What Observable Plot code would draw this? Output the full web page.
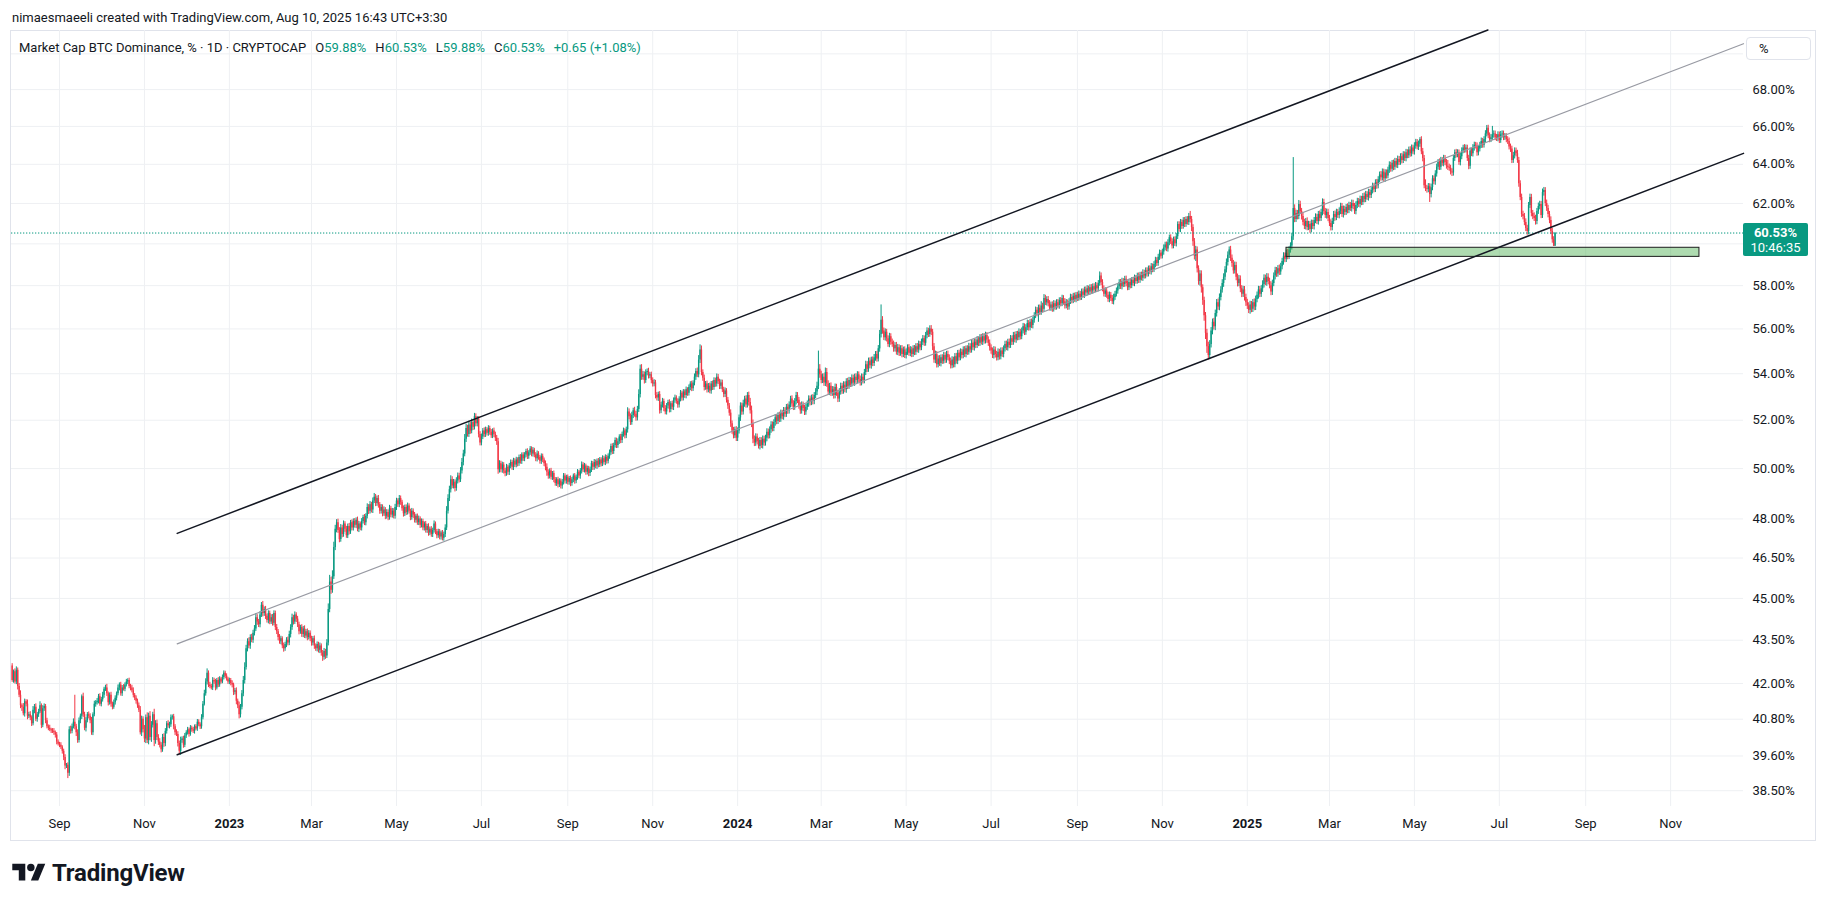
<!DOCTYPE html>
<html>
<head>
<meta charset="utf-8">
<script src="https://cdn.jsdelivr.net/npm/d3@7"></script>
<script src="https://cdn.jsdelivr.net/npm/@observablehq/plot@0.6"></script>
<style>
  html,body{margin:0;padding:0;background:#fff;}
  body{width:1825px;height:906px;position:relative;overflow:hidden;font-family:Roboto,"Noto Sans",sans-serif;color:#131722;}
  #credit{position:absolute;left:12px;top:9px;font-size:13px;line-height:18px;white-space:nowrap;}
  #border{position:absolute;left:10px;top:30px;width:1806px;height:811px;border:1px solid #e0e3eb;box-sizing:border-box;}
  #chart{position:absolute;left:0;top:30px;}
  #legend{position:absolute;left:19px;top:39px;font-size:13px;line-height:18px;white-space:nowrap;}
  #legend .it{margin-left:9px;}
  #legend .v{color:#089981;}
  #unit{position:absolute;left:1746px;top:37px;width:65px;height:23px;border:1px solid #e0e3eb;border-radius:4px;box-sizing:border-box;font-size:13px;line-height:21px;padding-left:12px;background:#fff;}
  #logo{position:absolute;left:12px;top:860px;height:26px;display:flex;align-items:center;gap:6px;font-weight:700;font-size:24px;letter-spacing:-0.2px;color:#131722;}
</style>
</head>
<body>
<div id="credit">nimaesmaeeli created with TradingView.com, Aug 10, 2025 16:43 UTC+3:30</div>
<div id="border"></div>
<div id="chart"></div>
<div id="legend"></div>
<div id="unit">%</div>
<div id="logo"><svg width="34" height="26" viewBox="0 0 36 28"><path d="M14 22H7V11H0V4h14v18z" fill="#131722"/><circle cx="20" cy="8" r="4" fill="#131722"/><path d="M28 22h-8l7.5-18h8z" fill="#131722"/></svg><span>TradingView</span></div>
<script>
// ---------------- data ----------------
const firstDay = "2022-07-29";
const firstOpen = 42.60;

// daily closes (%), one per day from 2022-07-29 to 2025-08-10
const close2022 = [
42.10,42.40,42.05,
42.45,41.90,41.60,41.25,41.20,40.98,41.38,41.30,40.90,40.95,
40.85,40.65,41.10,41.20,40.80,40.95,41.05,41.25,40.60,41.15,
41.22,40.75,40.55,40.50,40.45,40.42,40.40,40.35,40.28,40.05,
39.98,
39.95,39.88,39.75,39.55,39.28,39.30,39.05,40.45,40.40,40.55,
40.70,40.55,40.35,40.10,40.75,40.90,41.55,40.95,40.50,40.75,
40.95,40.90,40.75,40.35,40.95,41.30,41.35,41.40,41.55,41.30,
41.45,41.60,41.80,41.85,41.65,41.35,41.60,41.30,41.20,41.35,
41.50,41.65,41.85,41.95,41.65,41.85,41.80,41.95,42.05,42.10,
41.90,41.85,41.75,41.60,41.50,41.40,41.25,41.10,40.35,40.80,
40.45,
40.15,40.85,40.10,40.90,40.20,40.60,40.95,40.10,40.65,40.20,
40.05,39.95,39.80,40.20,40.00,40.40,40.65,40.58,40.62,40.85,
40.88,40.55,40.35,40.30,40.00,39.75,40.10,40.15,39.95,40.25,
40.35,40.45,40.30,40.50,40.45,40.40,40.55,40.48,40.70,40.62,
40.55,40.85,41.30,41.65,42.05,42.35,41.95,41.90,41.85,42.10,
42.05,41.85,42.10,41.95,42.15,42.05,42.20,42.35,42.25,42.15,
42.05];
const close2023 = [
42.10,42.00,41.95,41.70,41.75,41.40,41.25,40.95,41.20,41.65,
42.10,42.55,43.20,43.45,43.30,43.60,43.50,43.75,43.90,44.30,
44.15,44.05,44.40,44.75,44.45,44.60,44.35,44.20,44.45,44.15,
44.30,
44.10,44.45,43.95,43.80,43.60,43.45,43.55,43.30,43.20,43.35,
43.50,43.40,43.70,43.95,44.30,44.15,44.40,44.25,44.05,43.80,
43.95,43.70,43.90,43.65,43.80,43.60,43.75,43.55,
43.40,43.55,43.30,43.20,43.35,43.15,43.30,43.05,42.90,43.10,
42.95,43.40,44.60,45.60,45.30,45.80,46.90,47.60,47.85,47.55,
47.20,47.65,47.40,47.80,47.60,47.35,47.70,47.50,47.85,47.65,
47.90,
47.75,47.95,47.60,47.80,47.65,47.90,48.05,47.85,48.10,48.45,
48.30,48.55,48.35,48.70,48.85,48.60,48.80,48.55,48.30,48.45,
48.20,48.35,48.10,48.25,48.05,48.40,48.15,48.30,48.10,48.45,
48.70,48.55,48.80,48.65,48.40,48.20,48.45,48.25,48.50,48.30,
48.05,48.30,48.15,47.95,48.10,47.85,48.00,47.75,47.90,47.65,
47.80,47.55,47.70,47.45,47.60,47.40,47.55,47.80,47.50,47.35,
47.50,
47.30,47.45,47.25,47.40,47.65,48.30,48.80,49.15,49.55,49.30,
49.45,49.20,49.50,49.70,49.55,49.90,50.25,50.60,51.20,51.65,
51.40,51.80,51.55,51.90,51.70,52.15,51.85,52.05,51.40,51.05,
51.30,51.55,51.40,51.60,51.45,51.65,51.50,51.35,51.55,51.40,
51.25,51.10,49.95,50.20,49.95,50.15,49.90,49.80,50.05,49.85,
50.10,50.25,50.05,50.30,50.15,50.35,50.20,50.45,50.30,50.55,
50.40,
50.55,50.70,50.50,50.65,50.80,50.60,50.75,50.55,50.40,50.60,
50.45,50.30,50.50,50.35,50.20,50.05,49.85,49.70,49.90,49.65,
49.80,49.55,49.40,49.55,49.35,49.50,49.30,49.45,49.70,49.50,
49.65,
49.45,49.60,49.40,49.55,49.70,49.50,49.65,49.85,49.70,49.90,
50.15,49.95,50.10,49.85,50.00,49.80,49.95,50.20,50.05,50.25,
50.10,50.30,50.15,50.35,50.20,50.40,50.25,50.45,50.30,50.50,
50.65,50.90,50.70,50.95,51.15,50.95,51.10,51.30,51.15,51.40,
51.55,51.35,51.60,52.35,52.15,51.90,52.20,52.40,52.25,52.10,
52.45,53.10,54.20,53.85,53.95,53.70,54.05,54.10,53.90,53.95,
53.70,
53.55,53.60,53.05,52.95,53.10,52.40,52.65,52.80,52.50,52.35,
52.60,52.75,52.45,52.70,52.55,52.85,52.95,52.80,52.65,52.90,
53.15,52.95,53.20,53.05,53.30,53.15,53.40,53.55,53.35,53.60,
53.85,54.10,53.95,54.60,55.05,54.05,53.80,53.40,53.55,53.30,
53.45,53.25,53.55,53.40,53.70,53.55,53.85,53.65,53.45,53.60,
53.30,53.10,53.25,52.85,52.60,52.30,51.85,51.55,51.35,51.60,
51.25];
const close2024 = [
51.55,52.10,52.60,52.35,52.70,52.90,52.65,53.05,52.75,52.40,
51.85,51.20,51.05,51.30,51.10,50.90,51.15,50.95,51.20,51.05,
51.25,51.50,51.35,51.60,51.80,51.65,51.90,52.10,51.95,52.20,
52.05,
52.30,52.15,52.40,52.25,52.55,52.40,52.65,52.90,52.70,52.55,
52.80,53.05,52.85,52.60,52.40,52.65,52.50,52.35,52.55,52.70,
52.90,52.75,52.95,52.80,53.05,53.20,53.45,54.20,53.95,
53.70,53.85,53.60,54.05,53.55,53.20,53.45,53.15,53.30,53.05,
53.40,53.15,52.90,53.20,53.45,53.25,53.50,53.30,53.65,53.45,
53.70,53.55,53.80,53.60,53.85,53.70,53.95,53.75,53.60,53.85,
53.70,
54.05,54.40,54.20,54.55,54.35,54.60,54.45,54.70,54.85,54.65,
55.10,55.75,56.40,55.90,55.60,55.85,55.55,55.30,55.65,55.40,
55.30,55.10,55.25,54.95,55.15,54.90,55.10,54.85,55.05,54.80,
54.95,55.15,54.90,55.05,54.85,55.10,54.95,55.20,55.05,55.30,
55.15,55.40,55.55,55.35,55.70,55.90,55.75,56.00,55.85,55.20,
54.60,54.85,54.40,54.65,54.45,54.70,54.55,54.80,54.60,54.85,
54.70,
54.55,54.35,54.60,54.40,54.75,54.55,54.90,54.70,54.95,54.80,
55.05,54.85,55.10,54.95,55.20,55.05,55.35,55.15,55.40,55.25,
55.50,55.35,55.60,55.40,55.65,55.45,55.70,55.50,55.35,55.15,
55.00,54.80,55.05,54.85,54.70,54.95,54.75,55.00,54.85,55.10,
55.30,55.15,55.40,55.25,55.55,55.40,55.70,55.50,55.75,55.60,
55.85,55.65,55.90,56.10,55.85,56.05,56.25,56.05,56.30,56.15,
56.40,
56.60,56.85,56.70,56.95,56.75,57.05,56.90,57.40,57.20,57.35,
57.15,56.95,57.10,56.90,57.15,57.00,57.20,57.05,57.30,57.15,
57.40,57.25,57.05,57.20,57.00,57.25,57.45,57.30,57.50,57.35,
57.55,
57.40,57.60,57.45,57.70,57.55,57.80,57.65,57.85,57.70,57.90,
57.75,57.95,57.80,58.00,57.85,58.10,58.45,58.15,57.85,57.60,
57.75,57.55,57.35,57.55,57.40,57.25,57.45,57.60,57.75,57.95,
58.15,57.95,58.20,58.05,58.30,58.10,57.90,58.15,58.00,58.25,
58.10,58.35,58.20,58.45,58.25,58.50,58.35,58.60,58.45,58.70,
58.55,58.80,58.65,58.90,58.75,59.00,59.20,59.05,59.35,59.55,
59.40,
59.60,59.80,59.95,59.75,60.05,60.30,60.10,59.90,60.20,60.00,
60.35,60.95,60.70,61.05,60.85,61.15,60.95,61.20,61.05,61.35,
61.20,60.80,60.10,59.40,59.70,58.80,58.20,58.55,57.90,57.30,
56.60,55.80,55.20,54.80,55.30,55.90,56.30,56.10,56.70,57.20,
57.00,57.45,57.80,58.10,58.40,58.75,59.10,59.45,59.70,59.30,
59.05,58.70,58.95,58.40,58.10,58.30,57.85,57.60,57.80,57.45,
57.20];
const close2025 = [
57.05,56.85,57.10,56.90,57.20,57.00,57.35,57.55,57.80,57.60,
57.85,58.05,58.35,58.15,58.40,58.20,58.00,57.70,58.10,58.45,
58.70,58.55,58.80,58.65,58.90,59.15,59.40,59.25,59.55,59.40,
59.70,
59.90,60.35,61.75,61.20,61.50,61.35,61.95,61.60,61.35,61.05,
60.85,61.10,60.80,60.95,60.70,61.00,60.85,61.15,61.30,61.10,
61.45,61.25,61.55,62.05,61.60,61.40,61.55,61.25,
61.00,60.80,61.10,61.45,61.30,61.55,61.40,61.60,61.85,61.45,
61.70,61.55,61.80,61.65,61.90,61.75,62.00,61.85,61.60,61.90,
62.10,61.95,62.20,62.05,62.35,62.20,62.45,62.30,62.55,62.40,
62.65,
62.85,62.70,63.05,62.90,63.20,63.45,63.30,63.60,63.25,63.55,
63.40,63.70,63.95,63.75,64.05,63.85,64.15,63.95,64.25,64.10,
64.40,64.20,64.50,64.30,64.60,64.45,64.75,64.55,64.85,64.65,
64.95,65.15,64.90,65.05,65.30,64.65,64.30,62.90,62.75,62.70,
62.85,62.45,62.80,63.25,63.10,63.50,63.85,64.10,63.85,64.20,
64.05,64.30,64.10,63.90,63.85,63.80,63.60,63.55,64.30,64.60,
64.50,
64.60,64.10,64.40,64.70,64.85,64.75,64.85,64.30,63.90,64.70,
64.55,64.85,65.00,64.95,64.60,64.80,65.00,65.20,65.00,65.30,
65.60,65.90,65.50,65.30,65.40,65.55,65.60,65.40,65.35,65.55,
65.25,65.55,65.60,65.40,65.45,65.30,65.20,64.90,64.80,64.20,
64.45,64.70,64.55,64.20,63.00,62.30,61.45,61.35,61.05,60.75,
60.60,61.90,62.30,61.50,61.35,61.25,61.10,61.60,61.85,61.95,
61.40,
62.55,62.65,62.00,61.75,61.45,61.15,60.60,60.20,59.88,60.53];

// upper / lower wick lengths, hundredths of a percentage point
const wickUp2022 = [8,6,10,
12,8,10,15,6,12,9,7,14,8,10,6,12,9,11,7,8,13,6,10,9,7,8,6,10,5,7,9,6,8,7,
6,8,5,7,9,6,8,10,12,9,11,90,8,10,9,7,6,12,8,10,7,9,8,11,6,10,7,9,8,10,
8,10,7,9,12,6,8,10,7,9,8,6,10,7,9,8,11,7,9,6,8,7,9,10,6,8,7,9,12,10,8,
14,9,16,10,15,12,8,18,10,12,9,11,8,10,12,9,7,10,8,9,6,8,7,10,9,8,11,7,9,8,
7,8,6,9,7,8,6,7,9,8,6,10,9,12,11,15,8,9,7,10,8,9,7,10,8,6,9,8,7,8,6];
const wickDn2022 = [6,9,7,
9,12,8,10,14,7,11,9,12,8,10,9,7,12,8,10,9,6,11,8,9,10,7,8,6,9,7,8,10,9,6,
8,7,9,10,12,8,17,10,9,8,7,10,12,9,8,10,11,9,8,12,7,9,10,8,9,7,10,8,9,7,
9,8,10,7,9,11,8,10,9,7,8,9,7,10,8,9,6,8,7,9,8,10,7,9,8,10,9,8,7,12,10,
12,15,10,14,11,16,9,20,12,10,11,9,10,8,12,10,9,8,10,9,8,10,9,7,11,12,13,9,10,8,
8,7,9,6,8,7,9,6,8,7,9,8,7,6,8,10,9,8,7,9,8,10,7,9,8,7,6,8,9,7,8];
const wickUp2023 = [
8,7,9,6,8,10,7,12,9,11,14,16,12,10,13,9,11,10,12,15,11,9,12,10,14,9,11,8,10,9,11,
12,10,9,11,8,10,9,7,10,8,9,11,12,10,13,9,11,8,10,9,8,10,9,11,8,10,9,8,
9,8,10,7,9,8,10,7,9,11,8,12,20,25,18,22,20,15,12,14,11,13,10,12,9,11,10,12,9,11,10,
11,9,12,10,8,11,9,12,10,14,11,13,10,12,15,11,10,12,9,11,10,12,9,11,10,13,9,11,10,12,
11,9,12,10,8,11,9,10,12,9,8,11,9,10,8,9,11,8,10,9,8,10,9,11,8,10,9,12,8,9,10,
9,8,10,9,12,18,15,14,16,12,11,10,13,12,11,14,16,15,20,18,14,16,12,15,13,14,12,11,10,12,
12,10,13,11,9,12,10,11,9,12,10,11,14,12,10,11,9,10,12,9,11,10,9,12,10,11,9,10,12,9,10,
10,9,11,8,10,9,11,8,10,12,9,8,10,9,8,11,14,10,9,11,8,10,9,8,10,9,8,11,10,9,8,
9,8,10,9,8,10,9,11,8,10,12,9,11,8,10,9,11,10,9,12,10,9,11,10,9,12,10,11,9,10,
11,10,12,9,11,10,12,9,11,10,12,9,11,18,13,12,14,11,15,12,14,20,18,20,15,13,12,11,14,10,12,
12,14,11,13,10,12,11,13,10,12,11,10,12,9,11,10,12,9,11,10,12,9,11,10,12,9,11,10,12,9,
14,12,15,20,23,18,12,14,11,13,12,14,11,13,12,11,14,12,11,13,12,11,13,10,12,11,14,12,15,11,13];
const wickDn2023 = [
9,8,10,11,9,12,10,14,11,9,10,12,9,11,10,12,9,11,10,9,12,10,11,9,12,10,11,9,12,10,9,
10,9,11,10,12,9,11,10,12,9,11,10,9,12,10,11,9,12,10,11,9,10,11,9,10,12,9,10,
11,10,12,9,11,10,12,11,14,10,12,9,10,12,15,11,10,12,14,11,12,10,13,11,12,10,11,12,10,11,12,
11,12,10,13,11,12,10,11,12,10,13,11,12,14,10,12,11,13,12,11,12,10,13,11,12,10,11,12,10,11,
12,10,11,12,10,13,11,12,10,11,12,10,13,11,12,10,11,12,10,11,12,10,11,12,10,11,12,10,11,12,10,
11,12,10,11,12,10,11,12,13,11,12,14,11,12,13,11,12,14,12,13,11,12,14,12,13,11,12,13,14,12,
12,11,13,12,11,12,13,11,12,13,14,15,18,13,12,14,12,13,11,12,13,11,12,13,11,12,13,11,12,13,11,
12,11,13,12,11,12,13,11,12,13,11,12,13,11,12,14,16,13,12,11,13,12,11,12,13,11,12,13,11,12,13,
11,12,13,11,12,13,11,12,11,13,12,11,13,12,11,13,12,11,13,12,11,13,12,11,13,12,11,13,12,11,
12,11,13,12,11,13,12,11,13,12,11,13,12,14,13,12,11,13,12,14,13,12,15,14,13,15,12,14,13,12,14,
13,12,14,13,15,14,12,13,14,12,13,12,14,13,12,14,13,12,14,13,12,14,13,12,14,13,12,14,13,12,
13,14,12,13,15,14,13,15,12,14,13,12,14,13,12,14,13,12,14,13,12,14,13,12,14,13,15,14,13,12,14];
const wickUp2024 = [
13,12,14,13,15,12,14,13,15,18,20,16,14,13,12,14,13,12,14,13,12,14,13,12,14,13,12,14,13,12,14,
13,12,14,13,12,14,13,12,14,13,12,14,13,12,14,13,12,14,13,12,14,13,12,14,13,15,18,80,20,
16,14,15,20,18,14,13,15,14,13,15,14,13,15,14,13,15,14,13,15,14,13,15,14,13,15,14,13,15,14,13,
14,15,13,14,15,13,14,15,13,14,15,18,70,16,14,15,13,14,15,13,14,15,13,14,15,13,14,15,13,14,
15,13,14,15,13,14,15,13,14,15,13,14,15,13,14,15,13,14,15,13,14,15,13,14,15,13,14,15,13,14,15,
13,14,15,13,14,15,13,14,15,13,14,15,13,14,15,13,14,15,13,14,15,13,14,15,13,14,15,13,14,15,
13,14,15,13,14,15,13,14,15,13,14,15,13,14,15,13,14,15,13,14,15,13,14,15,13,14,15,13,14,15,13,
14,15,13,14,15,20,13,18,15,13,14,15,13,14,15,13,14,15,13,14,15,13,14,15,13,14,15,13,14,15,13,
14,15,13,14,15,13,14,15,13,14,15,13,14,15,13,14,20,15,13,14,15,13,14,15,13,14,15,13,14,15,
13,14,15,13,14,15,13,14,15,13,14,15,13,14,15,13,14,15,13,14,15,13,14,15,13,14,15,13,14,15,13,
14,15,13,14,15,13,14,15,13,14,15,13,14,15,13,14,15,13,14,15,25,15,14,16,18,15,14,16,15,14,
16,15,18,20,17,16,15,18,16,15,17,16,15,18,16,15,17,16,15,18,16,15,17,16,15,18,16,15,17,16,15];
const wickDn2024 = [
14,13,15,14,13,15,14,13,15,14,16,18,15,14,13,10,14,13,15,14,13,15,14,13,15,14,13,15,14,13,15,
14,13,15,14,13,15,14,13,15,14,13,15,14,13,15,14,13,15,14,13,15,14,13,15,14,13,15,14,
15,14,13,15,16,14,13,15,14,13,15,14,13,15,14,13,15,14,13,15,14,13,15,14,13,15,14,13,15,14,13,
15,14,13,15,14,13,15,14,13,15,14,13,15,16,14,13,15,14,13,15,14,13,15,14,13,15,14,13,15,14,
13,15,14,13,15,14,13,15,14,13,15,14,13,15,14,13,15,14,13,15,18,14,16,15,14,13,15,14,13,15,14,
13,15,14,13,15,14,13,15,14,13,15,14,13,15,14,13,15,14,13,15,14,13,15,14,13,15,14,13,15,14,
15,14,13,15,16,14,13,15,14,13,15,14,13,15,14,13,15,14,13,15,14,13,15,14,13,15,14,13,15,14,13,
15,14,13,15,40,14,13,15,14,13,15,14,13,15,14,13,15,14,13,15,14,13,15,14,13,15,14,13,15,14,13,
15,14,13,15,14,13,15,14,13,15,14,13,15,14,13,15,14,13,15,14,13,15,14,13,15,14,13,15,14,13,
15,14,13,15,14,13,15,14,13,15,14,13,15,14,13,15,14,13,15,14,13,15,14,13,15,14,13,15,14,13,15,
14,13,15,14,13,15,14,13,15,14,13,15,14,13,15,14,13,15,14,13,15,18,20,22,18,25,20,18,22,25,
22,25,28,30,20,18,16,17,15,18,16,15,17,16,15,18,16,15,17,16,15,18,16,15,17,16,15,18,16,15,17];
const wickUp2025 = [
16,15,17,16,15,18,16,15,17,16,15,18,16,15,17,16,15,18,16,15,17,16,15,18,16,15,17,16,15,18,16,
15,17,260,18,16,15,20,16,15,17,16,15,18,16,15,17,16,15,18,16,15,17,16,18,16,15,17,16,
15,18,16,15,17,16,15,18,16,15,17,16,15,18,16,15,17,16,15,18,16,15,17,16,15,18,16,15,17,16,15,
18,16,15,17,16,15,18,16,15,17,16,15,18,16,15,17,16,15,18,16,15,17,16,15,18,16,15,17,16,15,
18,16,15,17,10,15,18,16,30,17,16,15,18,16,15,17,16,15,18,16,15,17,16,15,30,16,15,17,16,15,18,
16,15,17,16,15,18,16,15,17,16,15,18,16,15,17,16,15,18,16,15,17,15,16,15,17,45,16,15,17,16,
15,18,16,15,17,16,15,18,16,15,17,16,15,18,16,15,17,16,15,18,16,15,17,16,15,18,16,15,17,16,15,
18,16,15,17,16,15,18,16,15,0];
const wickDn2025 = [
17,16,15,18,16,15,17,16,15,18,16,15,17,16,15,18,16,15,17,16,15,18,16,15,17,16,15,18,16,15,17,
16,15,20,18,16,15,17,16,15,18,16,15,17,16,15,18,16,15,17,16,15,18,16,15,17,16,15,18,
16,15,17,16,15,18,16,15,17,16,15,18,16,15,17,16,15,18,16,15,17,16,15,18,16,15,17,16,15,18,16,
15,17,16,15,18,16,15,17,16,15,18,16,15,17,16,15,18,16,15,17,16,15,18,16,15,17,16,15,18,16,
15,17,16,15,18,16,15,17,16,15,18,16,40,17,16,15,18,16,15,17,16,15,18,16,15,17,16,15,18,16,15,
17,16,15,18,16,15,17,16,15,18,16,15,17,16,15,18,16,15,17,16,15,18,16,15,17,16,15,18,16,15,
17,16,15,18,16,15,17,16,15,18,16,15,17,16,15,18,16,15,17,16,15,18,16,15,17,16,15,18,16,15,17,
16,15,18,16,15,17,16,15,17,0];

// axis ticks
const priceTicks = [38.5,39.6,40.8,42,43.5,45,46.5,48,50,52,54,56,58,62,64,66,68];
const gridPrices = [38.5,39.6,40.8,42,43.5,45,46.5,48,50,52,54,56,58,60,62,64,66,68,70];
const monthTicks = ["2022-09-01","2022-11-01","2023-03-01","2023-05-01","2023-07-01","2023-09-01","2023-11-01",
  "2024-03-01","2024-05-01","2024-07-01","2024-09-01","2024-11-01","2025-03-01","2025-05-01","2025-07-01","2025-09-01","2025-11-01"];
const yearTicks = ["2023-01-01","2024-01-01","2025-01-01"];
const xDomain = ["2022-07-28T12:40Z","2025-12-23T08:10Z"];
const yDomain = [38.01, 71.34];

// drawings: channel lines [date, value] and support zone
const channelUpper  = [["2022-11-24T12:30Z",47.44],["2025-06-22T19:00Z",71.37]];
const channelMiddle = [["2022-11-24T12:30Z",43.37],["2025-12-23T08:10Z",70.58]];
const channelLower  = [["2022-11-24T12:30Z",39.64],["2025-12-23T08:10Z",64.57]];
const zone = {from:"2025-01-29T03:30Z", to:"2025-11-21T17:00Z", low:59.37, high:59.81};

const lastLabel = {price:60.53, countdown:"10:46:35"};
const legendInfo = {title:"Market Cap BTC Dominance, % · 1D · CRYPTOCAP", change:"+0.65 (+1.08%)"};

// ---------------- build ----------------
const DAY = 864e5;
const t0 = Date.parse(firstDay + "T00:00Z");
const closes = [].concat(close2022, close2023, close2024, close2025);
const ups = [].concat(wickUp2022, wickUp2023, wickUp2024, wickUp2025);
const dns = [].concat(wickDn2022, wickDn2023, wickDn2024, wickDn2025);
const candles = closes.map((c, i) => {
  const o = i ? closes[i - 1] : firstOpen;
  return {date: new Date(t0 + i * DAY), open: o, close: c,
    high: Math.max(o, c) + (ups[i] || 0) / 100,
    low: Math.min(o, c) - (dns[i] || 0) / 100};
});
const upC = candles.filter(d => d.close >= d.open);
const dnC = candles.filter(d => d.close < d.open);
const toDate = s => new Date(s);
const mk = (id, arr) => arr.map(([d, v]) => ({id, date: toDate(d), value: v}));
const blackLines = [...mk("upper", channelUpper), ...mk("lower", channelLower)];
const grayLine = mk("middle", channelMiddle);

const GREEN = "#089981", RED = "#f23645";
const W = 1825, H = 810, ML = 11, MR = 82, MT = 0, MB = 34;

const chart = Plot.plot({
  width: W, height: H, marginLeft: ML, marginRight: MR, marginTop: MT, marginBottom: MB,
  style: {fontFamily: "Roboto, 'Noto Sans', sans-serif", fontSize: "13px", color: "#131722", background: "transparent", overflow: "visible"},
  x: {type: "utc", domain: xDomain.map(toDate)},
  y: {type: "log", domain: yDomain},
  marks: [
    Plot.ruleY(gridPrices, {stroke: "#eef0f3", strokeWidth: 1}),
    Plot.ruleX([...monthTicks, ...yearTicks].map(toDate), {stroke: "#eef0f3", strokeWidth: 1}),
    Plot.ruleX(upC, {x: "date", y1: "low", y2: "high", stroke: GREEN, strokeWidth: 1}),
    Plot.ruleX(upC, {x: "date", y1: "open", y2: "close", stroke: GREEN, strokeWidth: 1.4}),
    Plot.ruleX(dnC, {x: "date", y1: "low", y2: "high", stroke: RED, strokeWidth: 1}),
    Plot.ruleX(dnC, {x: "date", y1: "open", y2: "close", stroke: RED, strokeWidth: 1.4}),
    Plot.ruleY([lastLabel.price], {stroke: GREEN, strokeWidth: 1, strokeDasharray: "1.3,1.7"}),
    Plot.rect([zone], {x1: d => toDate(d.from), x2: d => toDate(d.to), y1: "low", y2: "high",
      fill: "#4caf50", fillOpacity: 0.45, stroke: "#1c1c1c", strokeWidth: 1}),
    Plot.line(grayLine, {x: "date", y: "value", stroke: "#989aa3", strokeWidth: 1.2}),
    Plot.line(blackLines, {x: "date", y: "value", z: "id", stroke: "#131722", strokeWidth: 1.5}),
    Plot.axisY({anchor: "right", ticks: priceTicks, tickFormat: d => d.toFixed(2) + "%", tickSize: 0, tickPadding: 9}),
    Plot.axisX({ticks: monthTicks.map(toDate), tickFormat: "%b", tickSize: 0, tickPadding: 12}),
    Plot.axisX({ticks: yearTicks.map(toDate), tickFormat: "%Y", tickSize: 0, tickPadding: 12, fontWeight: "bold"})
  ]
});
document.getElementById("chart").appendChild(chart);

// last price label on the price scale
const ySc = chart.scale("y");
const yPix = ySc.apply ? (v => ySc.apply(v)) : d3.scaleLog(ySc.domain, ySc.range);
const svg = d3.select(chart);
const yy = yPix(lastLabel.price);
const bx = W - MR;
svg.append("rect").attr("x", bx).attr("y", yy - 9.5).attr("width", 65).attr("height", 33).attr("rx", 2).attr("fill", GREEN);
svg.append("text").attr("x", bx + 32.5).attr("y", yy).attr("dy", "0.35em").attr("text-anchor", "middle")
  .attr("fill", "#fff").attr("font-weight", "bold").attr("font-size", 13).text(lastLabel.price.toFixed(2) + "%");
svg.append("text").attr("x", bx + 32.5).attr("y", yy + 14.5).attr("dy", "0.35em").attr("text-anchor", "middle")
  .attr("fill", "#fff").attr("font-size", 13).text(lastLabel.countdown);

// legend from the last candle
const last = candles[candles.length - 1];
const f = v => v.toFixed(2) + "%";
document.getElementById("legend").innerHTML =
  `<span>${legendInfo.title}</span>` +
  `<span class="it">O<span class="v">${f(last.open)}</span></span>` +
  `<span class="it">H<span class="v">${f(last.high)}</span></span>` +
  `<span class="it">L<span class="v">${f(last.low)}</span></span>` +
  `<span class="it">C<span class="v">${f(last.close)}</span></span>` +
  `<span class="it v">${legendInfo.change}</span>`;
</script>
</body>
</html>
